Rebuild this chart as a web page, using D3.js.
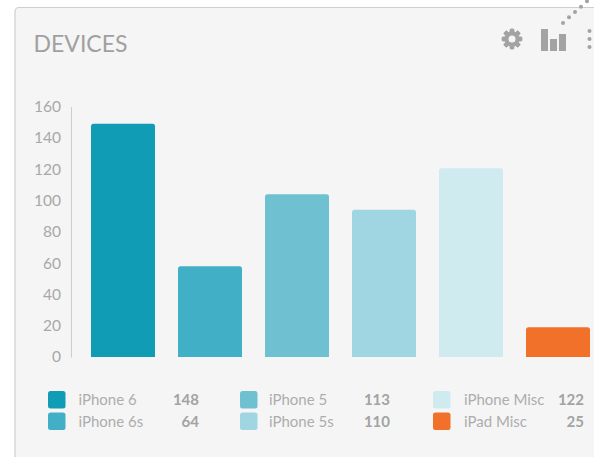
<!DOCTYPE html>
<html>
<head>
<meta charset="utf-8">
<script src="https://cdn.jsdelivr.net/npm/d3@7"></script>
<style>
html, body { margin: 0; padding: 0; background: #fff; overflow: hidden; }
text { font-family: Lato, "Noto Sans", sans-serif; }
</style>
</head>
<body>
<svg id="chart" width="594" height="457"></svg>
<script>
const devices = ['iPhone 6', 'iPhone 6s', 'iPhone 5', 'iPhone 5s', 'iPhone Misc', 'iPad Misc'];
const barValues = [149, 58, 104, 94, 120.5, 19];
const legendValues = [148, 64, 113, 110, 122, 25];
const colors = ['#119cb6', '#41afc5', '#6fc1d2', '#a0d6e2', '#d0ebf0', '#f1702a'];
const yTicks = [0, 20, 40, 60, 80, 100, 120, 140, 160];

const svg = d3.select('#chart');
const grey = '#a3a3a3';

// card
svg.append('rect')
    .attr('x', 15).attr('y', 7.5)
    .attr('width', 640).attr('height', 520)
    .attr('rx', 4)
    .attr('fill', '#f5f5f5')
    .attr('stroke', '#cfcfcf')
    .attr('stroke-width', 1.2);

svg.append('text')
    .attr('x', 33.5).attr('y', 52)
    .attr('fill', '#a0a0a0')
    .style('font-size', '24px')
    .attr('textLength', 94)
    .attr('lengthAdjust', 'spacingAndGlyphs')
    .text('DEVICES');

// scales
const x = d3.scaleBand().domain(devices).range([79.5, 601.5]).paddingInner(23 / 87).paddingOuter(23 / 174);
const y = d3.scaleLinear().domain([0, 160]).range([357, 106.5]);

const yAxis = svg.append('g')
    .attr('transform', 'translate(71,0)')
    .call(d3.axisLeft(y).tickValues(yTicks).tickSize(0).tickPadding(10));
yAxis.select('.domain').attr('stroke', '#cdcdcd');
yAxis.selectAll('text')
    .attr('fill', '#a8a8a8')
    .style('font-family', 'Lato, sans-serif')
    .style('font-size', '15.5px');

svg.append('g').selectAll('path')
    .data(devices)
    .join('path')
    .attr('fill', (d, i) => colors[i])
    .attr('d', (d, i) => {
        const x0 = x(d), x1 = x0 + x.bandwidth(), y0 = y(0), y1 = y(barValues[i]), r = 2.5;
        return `M${x0},${y0}V${y1 + r}Q${x0},${y1} ${x0 + r},${y1}H${x1 - r}Q${x1},${y1} ${x1},${y1 + r}V${y0}Z`;
    });

// legend, filled column by column
const legendCols = [
    { swatch: 48, label: 78.5, value: 199 },
    { swatch: 240, label: 269, value: 390 },
    { swatch: 433, label: 464, value: 584 }
];
const legendRows = [391, 412.5];

const legend = svg.append('g').selectAll('g')
    .data(devices)
    .join('g')
    .attr('transform', (d, i) => `translate(0,${legendRows[i % 2]})`);

legend.append('rect')
    .attr('x', (d, i) => legendCols[Math.floor(i / 2)].swatch)
    .attr('width', 17.5).attr('height', 17.5)
    .attr('rx', 2.5)
    .attr('fill', (d, i) => colors[i]);

legend.append('text')
    .attr('x', (d, i) => legendCols[Math.floor(i / 2)].label)
    .attr('y', 14)
    .attr('fill', '#adadad')
    .style('font-size', '15px')
    .text(d => d);

legend.append('text')
    .attr('x', (d, i) => legendCols[Math.floor(i / 2)].value)
    .attr('y', 14)
    .attr('text-anchor', 'end')
    .attr('fill', '#a3a3a3')
    .style('font-size', '15px')
    .style('font-weight', 700)
    .text((d, i) => legendValues[i]);

// toolbar icons
const gear = svg.append('g').attr('transform', 'translate(512,39)').attr('fill', grey);
gear.selectAll('rect')
    .data(d3.range(8))
    .join('rect')
    .attr('x', -2.2).attr('y', -10.2)
    .attr('width', 4.4).attr('height', 20.4)
    .attr('rx', 1)
    .attr('transform', d => `rotate(${d * 45})`);
gear.append('circle').attr('r', 5.6).attr('fill', 'none').attr('stroke', grey).attr('stroke-width', 4.2);
gear.append('circle').attr('r', 3.5).attr('fill', '#f5f5f5');

const iconBars = [[541, 29, 7, 22], [550, 39, 7, 12], [559, 34, 7, 17]];
svg.append('g').selectAll('rect')
    .data(iconBars)
    .join('rect')
    .attr('x', d => d[0]).attr('y', d => d[1])
    .attr('width', d => d[2]).attr('height', d => d[3])
    .attr('fill', grey);

svg.append('g').selectAll('circle')
    .data([31, 39, 47])
    .join('circle')
    .attr('cx', 589.5).attr('cy', d => d)
    .attr('r', 2)
    .attr('fill', grey);

svg.append('g').selectAll('circle')
    .data([[563, 23], [569, 17.3], [575, 12], [581, 6.7], [587, 1.3]])
    .join('circle')
    .attr('cx', d => d[0]).attr('cy', d => d[1])
    .attr('r', 2)
    .attr('fill', grey);
</script>
</body>
</html>
